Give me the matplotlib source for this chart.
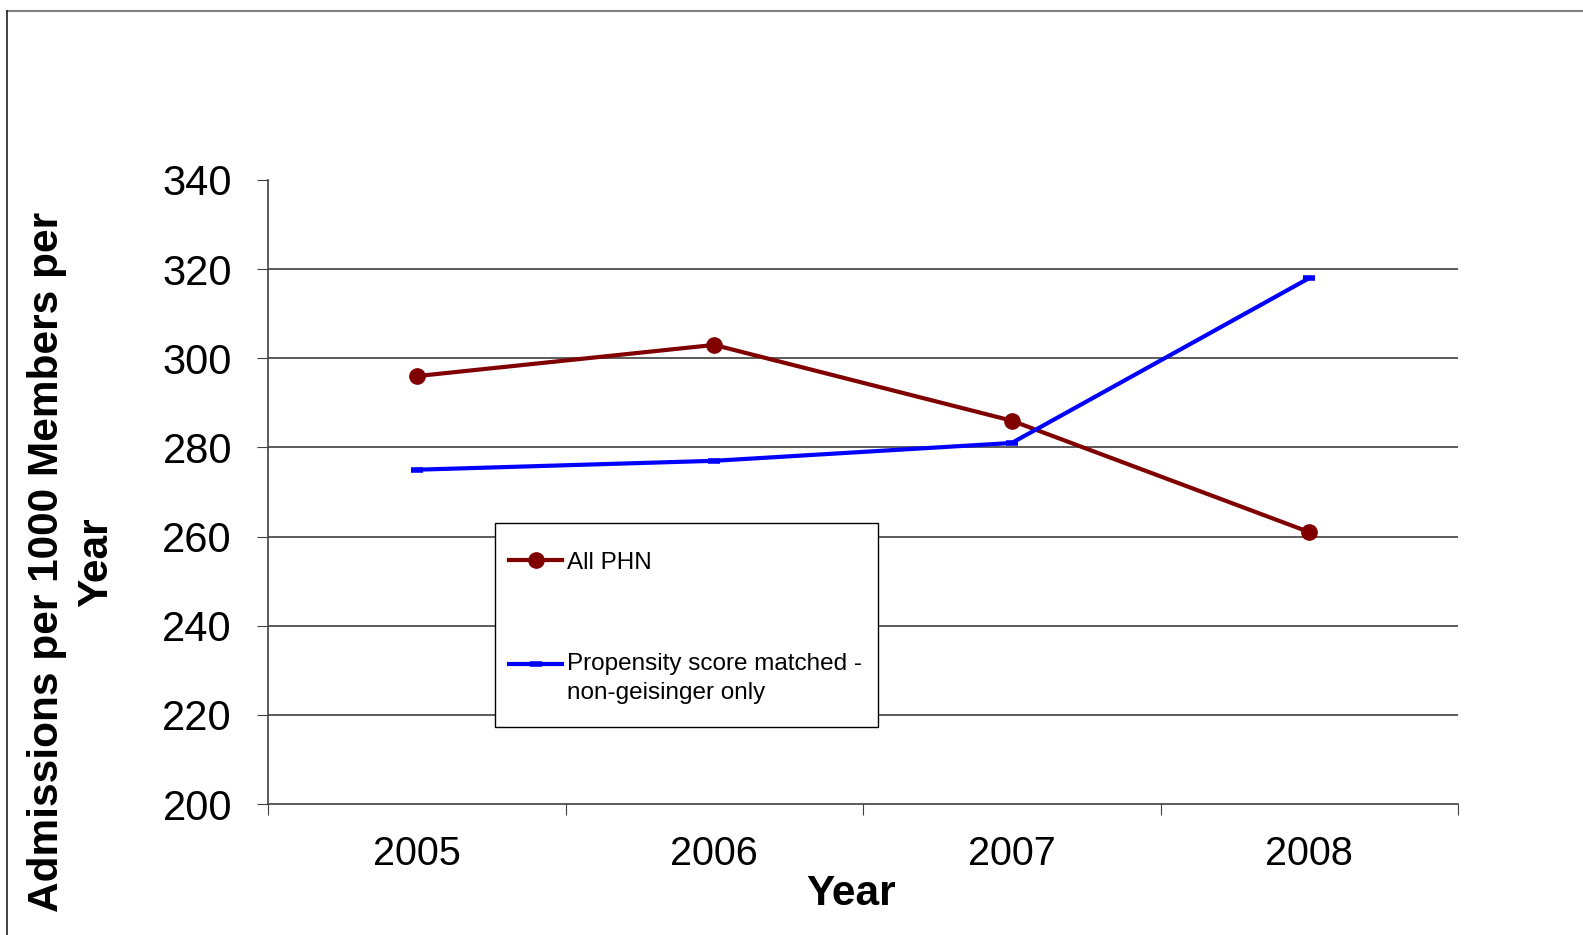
import matplotlib
matplotlib.use("Agg")
import matplotlib.pyplot as plt
from matplotlib.lines import Line2D
from matplotlib.patches import Rectangle
from matplotlib.legend_handler import HandlerLine2D

plt.rcParams["font.family"] = ["Liberation Sans", "DejaVu Sans"]

years = ["2005", "2006", "2007", "2008"]
all_phn = [296, 303, 286, 261]
propensity = [275, 277, 281, 318]
y_ticks = [200, 220, 240, 260, 280, 300, 320, 340]


class RaisedLine(HandlerLine2D):
    """legend handle aligned to the first line of a two-line label"""

    def __init__(self, raise_pts, **kw):
        super().__init__(**kw)
        self.raise_pts = raise_pts

    def create_artists(self, *args, **kw):
        artists = super().create_artists(*args, **kw)
        for a in artists:
            a.set_ydata([y + self.raise_pts for y in a.get_ydata()])
        return artists


W, H = 1583, 935
fig = plt.figure(figsize=(W / 100, H / 100), dpi=100)
ax = fig.add_axes([268 / W, 1 - 804 / H, (1458 - 268) / W, (804 - 180) / H])

x = range(len(years))
ax.plot(x, all_phn, color="#800000", linewidth=3, marker="o", markersize=11,
        label="All PHN", zorder=3)
blue, = ax.plot(x, propensity, color="#0000FF", linewidth=3, marker="_", markersize=8,
                markeredgewidth=4, label="Propensity score matched -\nnon-geisinger only",
                zorder=3)

ax.set_xlim(-0.5, 3.5)
ax.set_ylim(200, 340)
ax.set_yticks(y_ticks)
ax.set_yticklabels([str(v) for v in y_ticks], fontsize=30)

# categories between tick marks, like Excel
ax.set_xticks([-0.5, 0.5, 1.5, 2.5, 3.5])
ax.set_xticklabels([])
ax.set_xticks(list(x), minor=True)
ax.set_xticklabels(years, minor=True, fontsize=28.5)
ax.tick_params(axis="x", which="minor", length=0, pad=22)
ax.tick_params(axis="x", which="major", length=8, color="#404040")
ax.tick_params(axis="y", length=8, color="#404040", pad=18)

for v in y_ticks[1:-1]:
    ax.axhline(v, color="#404040", linewidth=1.2, zorder=1)

ax.spines["top"].set_visible(False)
ax.spines["right"].set_visible(False)
ax.spines["left"].set_color("#404040")
ax.spines["bottom"].set_color("#404040")
ax.spines["left"].set_linewidth(1.2)
ax.spines["bottom"].set_linewidth(1.2)

fig.text(72 / W, 1 - 562 / H, "Admissions per 1000 Members per\nYear",
         rotation=90, ha="center", va="center", multialignment="center",
         fontsize=30.5, fontweight="bold", linespacing=1.3)
fig.text(851 / W, 1 - 894 / H, "Year", ha="center", va="center",
         fontsize=30.5, fontweight="bold")

# legend box
ax.add_patch(Rectangle((495 / W, 1 - 727 / H), 383 / W, 204 / H,
                       transform=fig.transFigure, facecolor="white",
                       edgecolor="black", linewidth=1.0, zorder=4.5, clip_on=False))
leg = ax.legend(loc="upper left", bbox_to_anchor=(509 / W, 1 - 551.5 / H),
                bbox_transform=fig.transFigure, fontsize=17.5, frameon=False,
                handlelength=2.2, handletextpad=0.2, labelspacing=3.25,
                borderpad=0, borderaxespad=0,
                handler_map={blue: RaisedLine(10.5)})
leg.get_texts()[1].set_linespacing(1.43)

# outer chart border
fig.add_artist(Line2D([7 / W, 1], [1 - 11 / H, 1 - 11 / H],
                      color="#808080", linewidth=1.5))
fig.add_artist(Line2D([7 / W, 7 / W], [0, 1 - 11 / H],
                      color="#202020", linewidth=1.2))

fig.savefig("out.png", dpi=100)
